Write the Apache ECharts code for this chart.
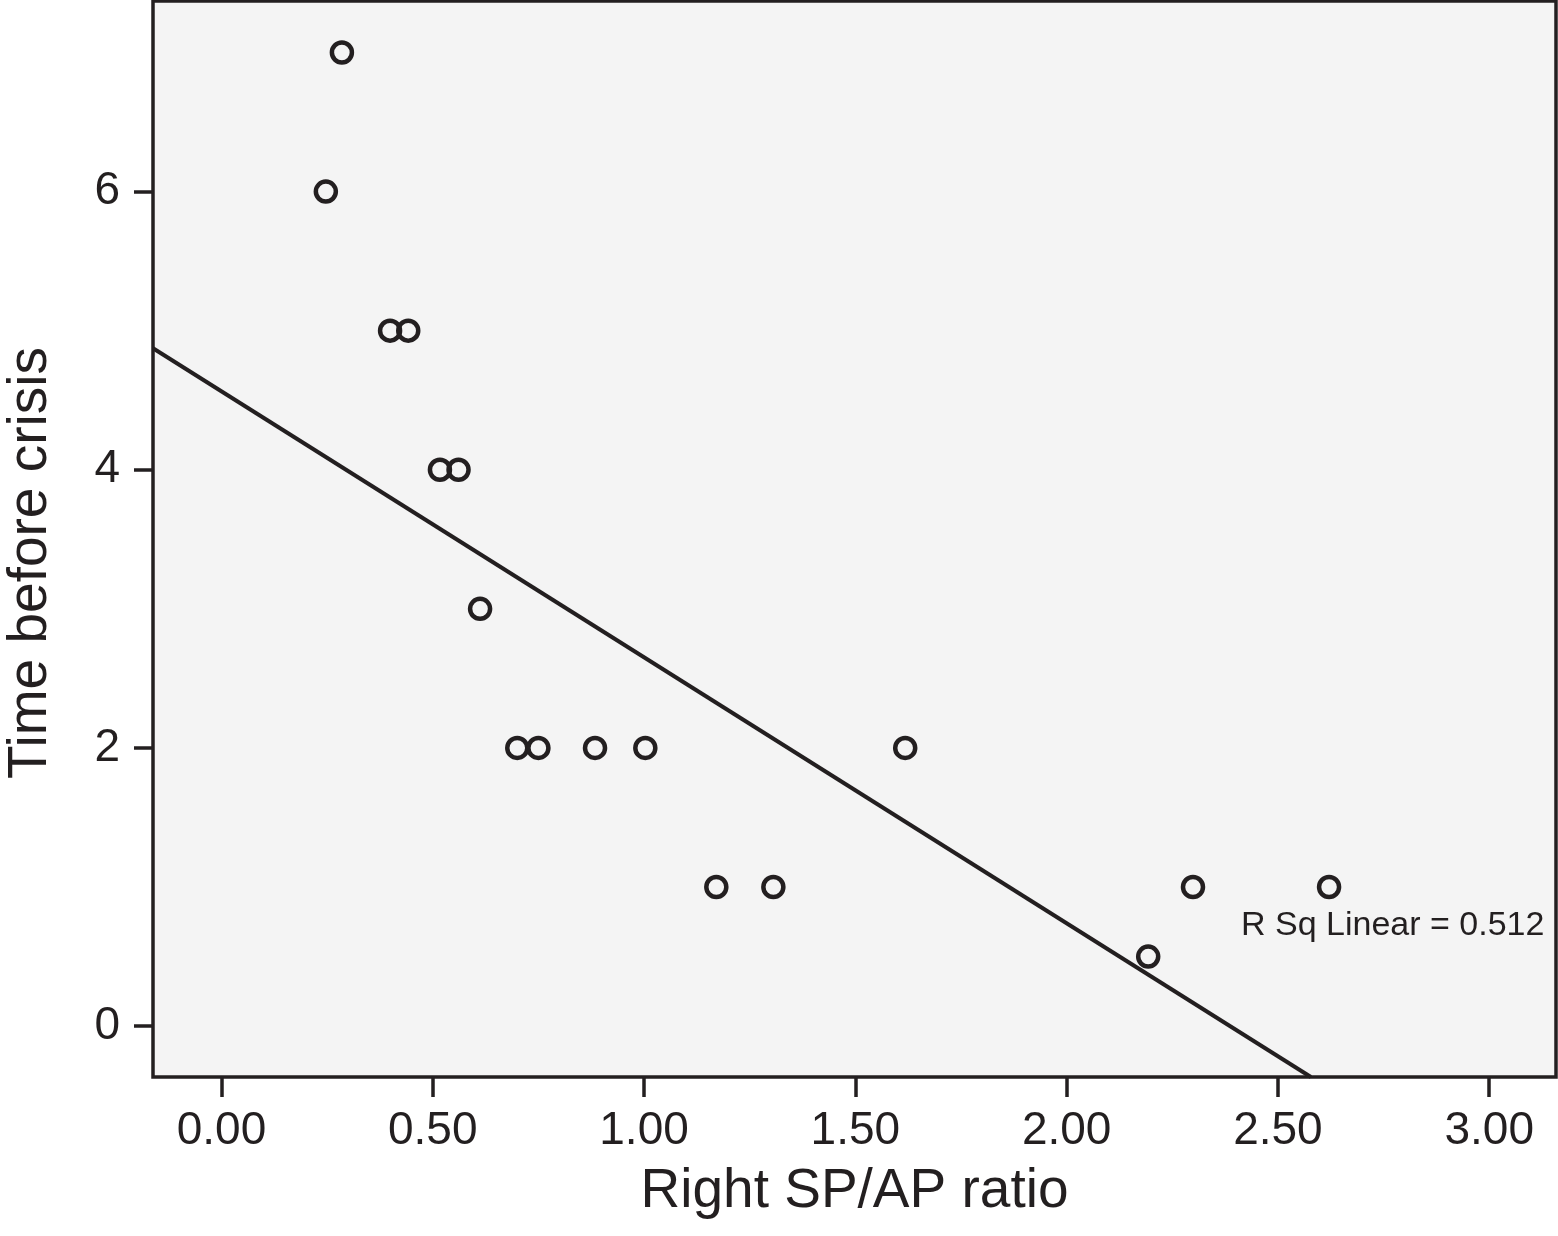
<!DOCTYPE html>
<html>
<head>
<meta charset="utf-8">
<script src="https://cdn.jsdelivr.net/npm/echarts@6/dist/echarts.min.js"></script>
<style>
  html, body { margin: 0; padding: 0; background: #ffffff; }
  #chart { width: 1558px; height: 1236px; }
</style>
</head>
<body>
<div id="chart"></div>
<script>
// ---- data ----
const ratioValues = [0.285, 0.247, 0.399, 0.442, 0.517, 0.561, 0.612, 0.700, 0.750, 0.884, 1.003, 1.618, 1.171, 1.306, 2.299, 2.621, 2.193];
const timeValues  = [7, 6, 5, 5, 4, 4, 3, 2, 2, 2, 2, 2, 1, 1, 1, 1, 0.5];
// fit line end points (as drawn in the reference)
const fitLineX = [-0.162, 2.578];
const fitLineY = [4.873, -0.366];
const xTicks = [0, 0.5, 1, 1.5, 2, 2.5, 3];
const yTicks = [0, 2, 4, 6];
const xTitle = 'Right SP/AP ratio';
const yTitle = 'Time before crisis';
const rsqText = 'R Sq Linear = 0.512';

const ink = '#231f20';
const font = '"Liberation Sans", Arial, Helvetica, sans-serif';

const points = ratioValues.map((x, i) => [x, timeValues[i]]);
const fitData = fitLineX.map((x, i) => [x, fitLineY[i]]);

const chart = echarts.init(document.getElementById('chart'), null, { renderer: 'canvas' });
chart.setOption({
  animation: false,
  backgroundColor: '#ffffff',
  grid: {
    left: 153, right: 2, top: 1, bottom: 159,
    show: true,
    backgroundColor: '#f4f4f4',
    borderColor: ink,
    borderWidth: 3.5,
    containLabel: false,
    outerBoundsMode: 'none'
  },
  xAxis: {
    type: 'value',
    min: -0.162, max: 3.158,
    name: xTitle,
    nameLocation: 'middle',
    nameGap: 87,
    nameTextStyle: { fontFamily: font, fontSize: 55, color: ink },
    splitLine: { show: false },
    axisLine: { show: false, onZero: false },
    axisTick: { show: true, inside: false, length: 20, customValues: xTicks, lineStyle: { color: ink, width: 3.5 } },
    axisLabel: {
      customValues: xTicks,
      margin: 31,
      fontFamily: font, fontSize: 46, color: ink,
      formatter: v => v.toFixed(2)
    }
  },
  yAxis: {
    type: 'value',
    min: -0.366, max: 7.37,
    name: yTitle,
    nameLocation: 'middle',
    nameGap: 95,
    nameTextStyle: { fontFamily: font, fontSize: 55, color: ink, padding: [0, 48, 0, 0] },
    splitLine: { show: false },
    axisLine: { show: false, onZero: false },
    axisTick: { show: true, inside: false, length: 19, customValues: yTicks, lineStyle: { color: ink, width: 3.5 } },
    axisLabel: {
      customValues: yTicks,
      margin: 33,
      fontFamily: font, fontSize: 46, color: ink,
      formatter: v => String(v)
    }
  },
  series: [
    {
      type: 'line',
      data: fitData,
      symbol: 'none',
      clip: true,
      lineStyle: { color: ink, width: 4 },
      silent: true,
      z: 2
    },
    {
      type: 'scatter',
      data: points,
      symbol: 'circle',
      symbolSize: 20,
      itemStyle: { color: 'rgba(0,0,0,0)', borderColor: ink, borderWidth: 4.5, opacity: 1 },
      emphasis: { disabled: true },
      silent: true,
      z: 3
    }
  ],
  graphic: [
    {
      type: 'text',
      left: 1241,
      top: 909,
      style: { text: rsqText, font: '34px ' + font, fill: ink },
      z: 10
    }
  ]
});
</script>
</body>
</html>
